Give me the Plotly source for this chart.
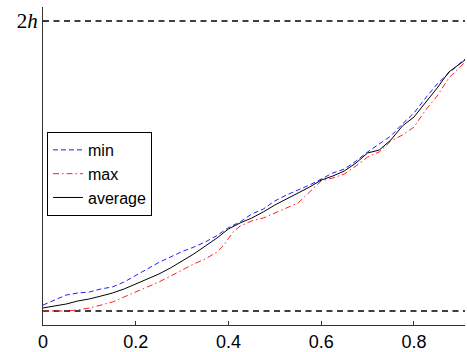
import plotly.graph_objects as go

x = [0, 0.025, 0.05, 0.075, 0.1, 0.125, 0.15, 0.175, 0.2, 0.225, 0.25, 0.275, 0.3, 0.325, 0.35,
     0.375, 0.4, 0.425, 0.45, 0.475, 0.5, 0.525, 0.55, 0.575, 0.6, 0.625, 0.65, 0.675, 0.7,
     0.725, 0.75, 0.775, 0.8, 0.825, 0.85, 0.875, 0.9, 0.91]
y_min = [0.041, 0.076, 0.110, 0.124, 0.131, 0.152, 0.166, 0.200, 0.248, 0.290, 0.335, 0.375, 0.410, 0.440, 0.476,
         0.520, 0.575, 0.614, 0.669, 0.703, 0.759, 0.800, 0.834, 0.869, 0.910, 0.952, 0.979, 1.034, 1.097,
         1.152, 1.207, 1.290, 1.366, 1.469, 1.566, 1.641, 1.710, 1.738]
y_avg = [0.021, 0.034, 0.048, 0.069, 0.083, 0.103, 0.124, 0.152, 0.186, 0.221, 0.255, 0.297, 0.345, 0.393, 0.448,
         0.503, 0.566, 0.607, 0.641, 0.683, 0.731, 0.772, 0.814, 0.855, 0.903, 0.931, 0.966, 1.021, 1.090,
         1.110, 1.179, 1.276, 1.338, 1.434, 1.538, 1.648, 1.710, 1.731]
x_red = [0, 0.025, 0.05, 0.075, 0.1, 0.125, 0.15, 0.175, 0.2, 0.225, 0.25, 0.275, 0.3, 0.325, 0.35,
         0.375, 0.39, 0.4, 0.41, 0.425, 0.45, 0.475, 0.5, 0.525, 0.55, 0.575, 0.6, 0.625, 0.65, 0.675, 0.7,
         0.725, 0.75, 0.775, 0.8, 0.825, 0.85, 0.875, 0.9, 0.91]
y_max = [0.0, 0.0, 0.0, 0.007, 0.021, 0.041, 0.062, 0.097, 0.131, 0.166, 0.200, 0.241, 0.283, 0.324, 0.359,
         0.407, 0.455, 0.503, 0.545, 0.586, 0.621, 0.641, 0.676, 0.710, 0.745, 0.821, 0.897, 0.917, 0.945, 1.0, 1.062,
         1.097, 1.172, 1.214, 1.269, 1.386, 1.483, 1.607, 1.683, 1.717]
x_ticks = [0, 0.2, 0.4, 0.6, 0.8]
x_tick_labels = ["0", "0.2", "0.4", "0.6", "0.8"]
y_ticks = [2]
y_tick_labels = ["2<i>h</i>"]
bounds = [0, 2]
x_range = [0, 0.91]

fig = go.Figure()
for b in bounds:
    fig.add_trace(go.Scatter(x=x_range, y=[b, b], mode="lines", showlegend=False,
                             line=dict(color="black", width=1.6, dash="6px,4.5px"), hoverinfo="skip"))
fig.add_trace(go.Scatter(x=x, y=y_min, mode="lines", name="min",
                         line=dict(color="#1f1fff", width=1, dash="5px,3px")))
fig.add_trace(go.Scatter(x=x_red, y=y_max, mode="lines", name="max",
                         line=dict(color="#ff1f1f", width=1, dash="6px,3px,1.5px,3px")))
fig.add_trace(go.Scatter(x=x, y=y_avg, mode="lines", name="average",
                         line=dict(color="black", width=1)))

fig.update_layout(
    width=467, height=352,
    margin=dict(l=43, r=2, t=7, b=27),
    paper_bgcolor="white", plot_bgcolor="white",
    font=dict(family="Liberation Sans, Arial", size=18, color="black"),
    legend=dict(x=0.0095, y=0.607, xanchor="left", yanchor="top",
                bordercolor="black", borderwidth=1, bgcolor="white",
                font=dict(size=16), tracegroupgap=0, itemwidth=30),
    xaxis=dict(range=x_range, tickvals=x_ticks, ticktext=x_tick_labels, automargin=False,
               showgrid=False, zeroline=False, showline=True, linecolor="#333", linewidth=1,
               ticks="inside", ticklen=4, tickcolor="#333", mirror=False),
    yaxis=dict(range=[-0.0966, 2.0966], tickvals=y_ticks, ticktext=y_tick_labels, automargin=False,
               showgrid=False, zeroline=False, showline=True, linecolor="#333", linewidth=1,
               ticks="inside", ticklen=4, tickcolor="#333",
               tickfont=dict(family="Liberation Serif, DejaVu Serif", size=21)),
)
fig.write_html("out.html", config={"displayModeBar": False},
               post_script="document.body.style.margin='0';document.body.style.overflow='hidden';")
